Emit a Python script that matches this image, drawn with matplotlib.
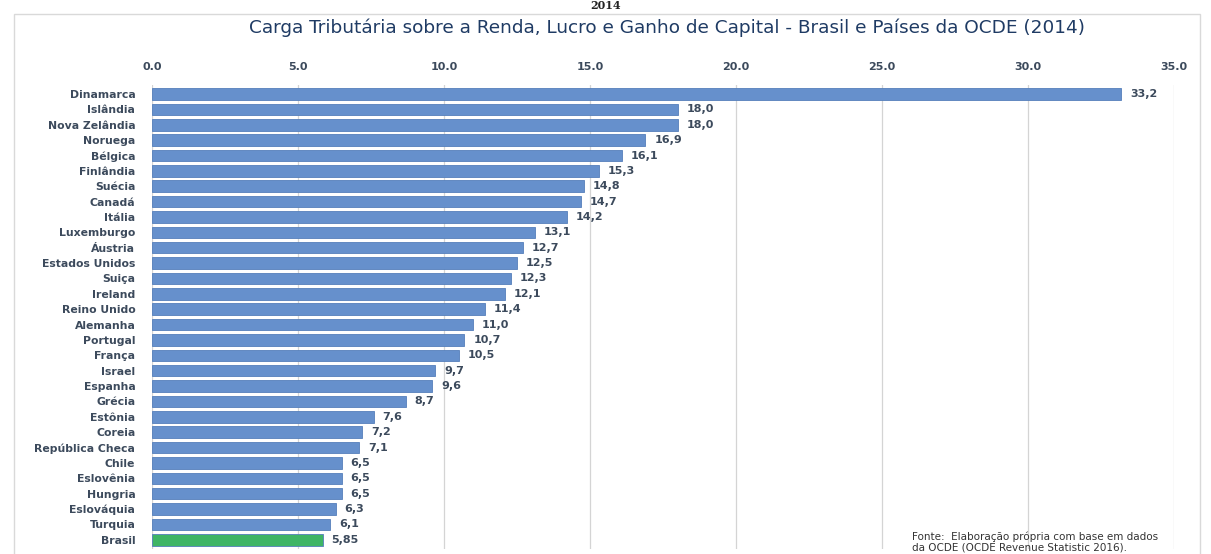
import matplotlib
matplotlib.use('Agg')
import matplotlib.pyplot as plt
from matplotlib.patches import Rectangle

plt.rcParams['font.family'] = ['DejaVu Sans']

paises = ['Dinamarca', 'Islândia', 'Nova Zelândia', 'Noruega', 'Bélgica', 'Finlândia',
          'Suécia', 'Canadá', 'Itália', 'Luxemburgo', 'Áustria', 'Estados Unidos',
          'Suiça', 'Ireland', 'Reino Unido', 'Alemanha', 'Portugal', 'França',
          'Israel', 'Espanha', 'Grécia', 'Estônia', 'Coreia', 'República Checa',
          'Chile', 'Eslovênia', 'Hungria', 'Eslováquia', 'Turquia', 'Brasil']
carga = [33.2, 18.0, 18.0, 16.9, 16.1, 15.3, 14.8, 14.7, 14.2, 13.1, 12.7, 12.5,
         12.3, 12.1, 11.4, 11.0, 10.7, 10.5, 9.7, 9.6, 8.7, 7.6, 7.2, 7.1,
         6.5, 6.5, 6.5, 6.3, 6.1, 5.85]
xticks = [0, 5, 10, 15, 20, 25, 30, 35]

AZUL, VERDE = '#6690cc', '#3fb565'
TXT = '#3c4a5c'

def fmt(v):
    s = f'{v:.1f}' if round(v, 1) == v else f'{v:.2f}'
    return s.replace('.', ',')

fig = plt.figure(figsize=(12.11, 5.54), dpi=100)
fig.add_artist(Rectangle((14/1211, -0.01), 1186/1211, 1 - 14/554 + 0.01,
                         transform=fig.transFigure, fill=False,
                         edgecolor='#d9d9d9', lw=1))
fig.text(0.5, 1.0, '2014', ha='center', va='top', fontsize=8,
         family='DejaVu Serif', fontweight='bold', color='#222222')
fig.text(0.551, 1 - 28/554, 'Carga Tributária sobre a Renda, Lucro e Ganho de Capital - '
         'Brasil e Países da OCDE (2014)', ha='center', va='center',
         fontsize=13.3, color='#1f3b64')

ax = fig.add_axes([152/1211, 1 - 549/554, 1022/1211, (549 - 84.8)/554])
ys = list(range(len(paises)))
cores = [VERDE if p == 'Brasil' else AZUL for p in paises]
ax.barh(ys, carga, height=0.75, color=cores, edgecolor='#557fbb', lw=0.6, zorder=3)
for y, v in zip(ys, carga):
    ax.text(v + 0.3, y, fmt(v), va='center', ha='left', fontsize=8,
            color=TXT, fontweight='bold')

ax.set_ylim(len(paises) - 0.4, -0.6)
ax.set_xlim(0, 35)
ax.set_yticks(ys)
ax.set_yticklabels(paises, fontsize=7.8, color=TXT, fontweight='bold')
ax.set_xticks(xticks)
ax.set_xticklabels([f'{t:.1f}' for t in xticks], fontsize=8, color=TXT, fontweight='bold')
ax.xaxis.tick_top()
ax.tick_params(axis='both', length=0)
ax.tick_params(axis='x', pad=9)
ax.tick_params(axis='y', pad=12)
ax.grid(axis='x', color='#d4d4d4', lw=0.9, zorder=0)
for s in ax.spines.values():
    s.set_visible(False)

fig.text(912/1211, 1 - 537/554, 'Fonte:  Elaboração própria com base em dados',
         fontsize=7.5, color='#333333', va='center')
fig.text(912/1211, 1 - 548/554, 'da OCDE (OCDE Revenue Statistic 2016).',
         fontsize=7.5, color='#333333', va='center')

fig.savefig('out.png', dpi=100)
